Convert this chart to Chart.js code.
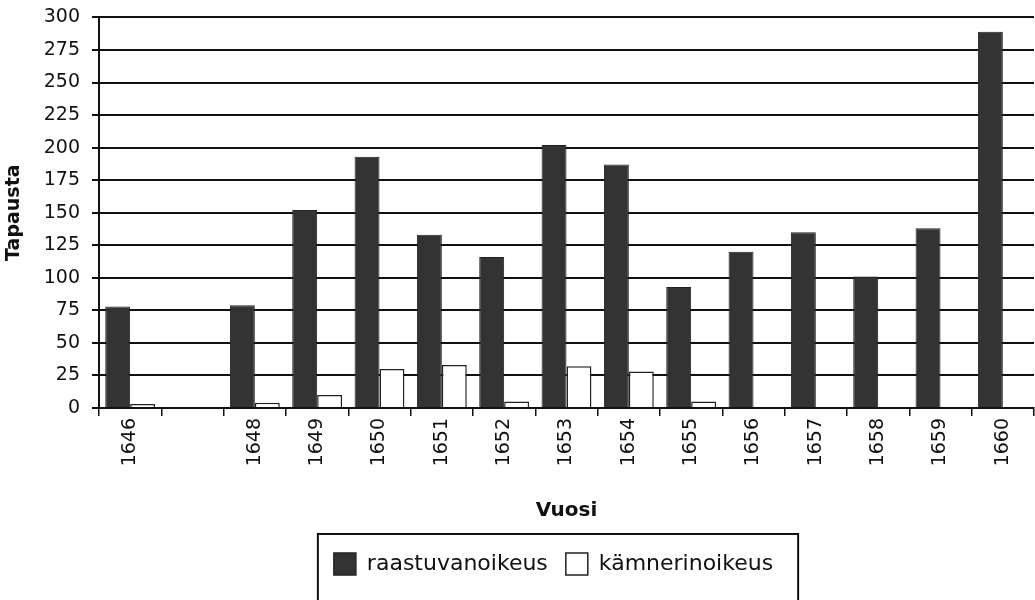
<!DOCTYPE html>
<html lang="fi">
<head>
    <meta charset="UTF-8">
    <title>Tapausta vuosittain</title>
    <script src="https://cdn.jsdelivr.net/npm/chart.js"></script>
    <style>
        html, body { margin: 0; padding: 0; background: #fff; overflow: hidden; }
        /* chart.js keeps ~22px above the top gridline; pull the canvas up a bit */
        #wrap { width: 1035px; height: 606px; margin-top: -6px; }
    </style>
</head>
<body>
    <div id="wrap"><canvas id="chart"></canvas></div>

    <script>
        // Data
        const years = ['1646', '', '1648', '1649', '1650', '1651', '1652', '1653', '1654', '1655', '1656', '1657', '1658', '1659', '1660'];
        const raastuvanoikeus = [78, null, 79, 152, 193, 133, 116, 202, 187, 93, 120, 135, 101, 138, 289];
        const kamnerinoikeus = [3, null, 4, 10, 30, 33, 5, 32, 28, 5, 1, 1, 0, 1, 0];
        const yTicks = [0, 25, 50, 75, 100, 125, 150, 175, 200, 225, 250, 275, 300];

        const fontFamily = '"DejaVu Sans", sans-serif';

        // nudge the legend a little left, then frame it
        const legendFrame = {
            id: 'legendFrame',
            afterLayout(chart) {
                chart.legend.left -= 13;
                chart.legend.right -= 13;
            },
            afterDraw(chart) {
                const boxes = chart.legend.legendHitBoxes;
                if (!boxes || !boxes.length) return;
                const left = Math.min(...boxes.map(b => b.left)) - 16;
                const right = Math.max(...boxes.map(b => b.left + b.width)) + 25;
                const mid = boxes[0].top + boxes[0].height / 2;
                const ctx = chart.ctx;
                ctx.save();
                ctx.strokeStyle = '#111';
                ctx.lineWidth = 2;
                ctx.strokeRect(left, mid - 30, right - left, 80);
                ctx.restore();
            }
        };

        const ctx = document.getElementById('chart').getContext('2d');
        new Chart(ctx, {
            type: 'bar',
            data: {
                labels: years,
                datasets: [
                    {
                        label: 'raastuvanoikeus',
                        data: raastuvanoikeus,
                        backgroundColor: '#333333',
                        borderColor: '#222',
                        borderWidth: 1
                    },
                    {
                        label: 'kämnerinoikeus',
                        data: kamnerinoikeus,
                        backgroundColor: '#ffffff',
                        borderColor: '#222',
                        borderWidth: 1.5
                    }
                ]
            },
            options: {
                responsive: true,
                maintainAspectRatio: false,
                animation: false,
                layout: { padding: { top: 0, right: 1, left: 3, bottom: 15 } },
                datasets: {
                    bar: { categoryPercentage: 0.8, barPercentage: 1.0 }
                },
                plugins: {
                    legend: {
                        position: 'bottom',
                        fullSize: false,
                        labels: {
                            color: '#111',
                            font: { family: fontFamily, size: 22 },
                            boxWidth: 22,
                            boxHeight: 22,
                            padding: 18,
                            generateLabels(chart) {
                                return chart.data.datasets.map((ds, i) => ({
                                    text: ds.label,
                                    fillStyle: ds.backgroundColor,
                                    strokeStyle: '#222',
                                    lineWidth: 1.5,
                                    datasetIndex: i,
                                    fontColor: '#111'
                                }));
                            }
                        }
                    },
                    tooltip: { enabled: false }
                },
                scales: {
                    x: {
                        border: { color: '#111', width: 2 },
                        grid: {
                            display: true,
                            drawOnChartArea: false,
                            color: '#111',
                            lineWidth: 1.5,
                            tickLength: 8
                        },
                        ticks: {
                            color: '#111',
                            font: { family: fontFamily, size: 19 },
                            minRotation: 90,
                            maxRotation: 90,
                            autoSkip: false,
                            padding: 2
                        },
                        title: {
                            display: true,
                            text: 'Vuosi',
                            color: '#111',
                            font: { family: fontFamily, size: 20, weight: 'bold' },
                            padding: { top: 0, bottom: 12 }
                        },
                        afterFit(scale) { scale.height = 127; }
                    },
                    y: {
                        min: 0,
                        max: 300,
                        border: { color: '#111', width: 2 },
                        grid: {
                            color: '#111',
                            lineWidth: 2,
                            tickLength: 7
                        },
                        afterBuildTicks(scale) {
                            scale.ticks = yTicks.map(v => ({ value: v }));
                        },
                        ticks: {
                            color: '#111',
                            font: { family: fontFamily, size: 19 },
                            padding: 12
                        },
                        title: {
                            display: true,
                            text: 'Tapausta',
                            color: '#111',
                            font: { family: fontFamily, size: 19, weight: 'bold' },
                            padding: { top: 0, bottom: 0 }
                        },
                        afterFit(scale) { scale.width = 96; }
                    }
                }
            },
            plugins: [legendFrame]
        });
    </script>
</body>
</html>
